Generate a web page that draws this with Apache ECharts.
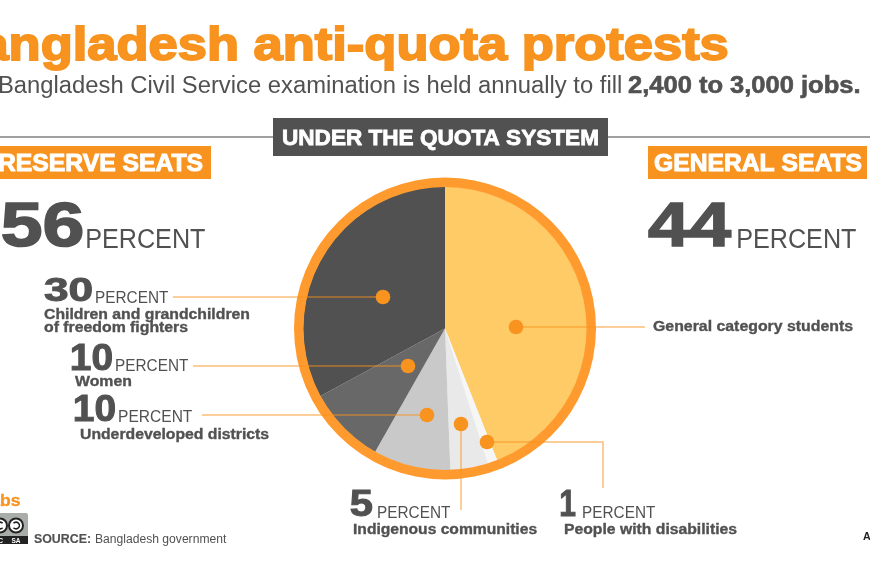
<!DOCTYPE html>
<html><head><meta charset="utf-8">
<style>html,body{margin:0;padding:0;background:#fff}#c{width:870px;height:561px}</style>
<script src="https://cdn.jsdelivr.net/npm/echarts@6/dist/echarts.min.js"></script>
</head><body><div id="c"></div>
<script>
// Slice sizes as drawn in the picture (share of the circle, clockwise from 12 o'clock).
const sliceNames = ['General category students','People with disabilities','Indigenous communities','Underdeveloped districts','Women','Children and grandchildren of freedom fighters'];
const sliceShares = [44, 1.1, 4.3, 8.8, 8.9, 32.9];
const sliceColors = ['#FFCB66','#F6F6F6','#E9E9E9','#C9C9C9','#686868','#515151'];
// Percentages as printed in the labels.
const reservePct = '56', generalPct = '44';
const labelPct = {children:'30', women:'10', districts:'10', indigenous:'5', disabilities:'1'};

const GREY='#515151', ORANGE='#F7931E', RING='#FF9A2E', LINE='rgba(247,147,30,0.6)';
const F='"Liberation Sans", Arial, sans-serif';
const mc=document.createElement('canvas').getContext('2d');

// Text whose ink runs from inkL to inkR on a given baseline.
// part (optional): the substring whose ink span inkL..inkR describes, ending the text.
function fit(text,inkL,inkR,base,size,fill,o){
  o=o||{};
  const font=(o.weight||'normal')+' '+size+'px '+F;
  mc.font=font;
  const m=mc.measureText(text);
  let sx, x;
  if(o.part){
    const p=mc.measureText(o.part);
    sx=(inkR-inkL)/(p.actualBoundingBoxLeft+p.actualBoundingBoxRight);
    x=inkR-m.actualBoundingBoxRight*sx;
  }else{
    sx=(inkR-inkL)/(m.actualBoundingBoxLeft+m.actualBoundingBoxRight);
    x=inkL+m.actualBoundingBoxLeft*sx;
  }
  const mid=(m.fontBoundingBoxAscent-m.fontBoundingBoxDescent)/2;
  return {type:'text',z:20,silent:true,x:x,y:base-mid+size*0.03,scaleX:sx,
    style:{x:0,y:0,text:text,fill:fill,font:font,align:'left',verticalAlign:'middle',
      stroke:o.stroke?fill:null,lineWidth:o.stroke||0}};
}
function rect(x,y,w,h,fill,z){return {type:'rect',z:z||10,silent:true,shape:{x:x,y:y,width:w,height:h},style:{fill:fill}};}
function line(pts){return {type:'polyline',z:12,silent:true,shape:{points:pts},style:{stroke:LINE,lineWidth:1.5,fill:null}};}
function dot(x,y){return {type:'circle',z:13,silent:true,shape:{cx:x,cy:y,r:7.3},style:{fill:ORANGE}};}
const B={weight:'bold'};
const big={weight:'bold',stroke:1.6}, mid={weight:'bold',stroke:1}, lab={weight:'bold',stroke:0.35};

const g=[
  fit('Bangladesh anti-quota protests',12,727,61.5,46,ORANGE,{weight:'bold',stroke:1.8,part:'ngladesh anti-quota protests'}),
  fit('The Bangladesh Civil Service examination is held annually to fill',-1,621,94,23.5,GREY,{part:'Bangladesh Civil Service examination is held annually to fill'}),
  fit('2,400 to 3,000 jobs.',628,859,94,23,GREY,{weight:'bold',stroke:0.6}),
  rect(0,136,870,2,'#A0A0A0',5),
  rect(273,118,335,38,GREY),
  fit('UNDER THE QUOTA SYSTEM',283,598,145,21.5,'#fff',{weight:'bold',stroke:0.8}),
  rect(-10,146,221,33,ORANGE),
  fit('RESERVE SEATS',-1,203,172.5,24,'#fff',{weight:'bold',stroke:1}),
  rect(648,146,219,33,ORANGE),
  fit('GENERAL SEATS',654,862,172.5,24,'#fff',{weight:'bold',stroke:1}),
  fit(reservePct,2,82,249,63,GREY,big),
  fit('PERCENT',87,205,249,27,GREY),
  fit(generalPct,648,731,249,63,GREY,big),
  fit('PERCENT',738,856,249,27,GREY),
  fit(labelPct.children,44,92,303,34,GREY,mid),
  fit('PERCENT',96,168,303,17,GREY),
  fit('Children and grandchildren',44,249,320,14.5,GREY,lab),
  fit('of freedom fighters',44,188,333,14.5,GREY,lab),
  fit(labelPct.women,72,112,371,36,GREY,mid),
  fit('PERCENT',116,188,371,17,GREY),
  fit('Women',75,131,387,14.5,GREY,lab),
  fit(labelPct.districts,75,115,422,36,GREY,mid),
  fit('PERCENT',119,192,422,17,GREY),
  fit('Underdeveloped districts',80,269,440,14.5,GREY,lab),
  fit(labelPct.indigenous,351,373,517,36,GREY,mid),
  fit('PERCENT',378,450,518,17,GREY),
  fit('Indigenous communities',353,537,535,14.5,GREY,lab),
  fit(labelPct.disabilities,561,576,517,36,GREY,mid),
  fit('PERCENT',583,655,518,17,GREY),
  fit('People with disabilities',564,737,535,14.5,GREY,lab),
  fit('General category students',653,853,332,14.5,GREY,lab),
  line([[173,297],[383,297]]),dot(383,297),
  line([[193,366],[408,366]]),dot(408,366),
  line([[202,415],[427,415]]),dot(427,415),
  line([[461,424],[461,510]]),dot(461,424),
  line([[487,442],[603,442],[603,488]]),dot(487,442),
  line([[516,327],[645,327]]),dot(516,327),
  // Footer
  fit('AJLabs',1,20,506,17,ORANGE,{weight:'bold',stroke:0.3,part:'bs'}),
  {type:'rect',z:10,silent:true,shape:{x:-20,y:513,width:48,height:31,r:2},style:{fill:'#A9ADA9'}},
  rect(-20,536,48,8,'#222',11),
  {type:'circle',z:12,silent:true,shape:{cx:0,cy:525.5,r:7},style:{fill:'#fff',stroke:'#222',lineWidth:2}},
  {type:'circle',z:12,silent:true,shape:{cx:16,cy:525.5,r:7},style:{fill:'#fff',stroke:'#222',lineWidth:2}},
  {type:'arc',z:13,silent:true,shape:{cx:16,cy:525.5,r:3.4,startAngle:-2.4,endAngle:2.4},style:{stroke:'#222',lineWidth:1.6,fill:null}},
  {type:'arc',z:13,silent:true,shape:{cx:0,cy:525.5,r:3.4,startAngle:0.7,endAngle:-0.7},style:{stroke:'#222',lineWidth:1.6,fill:null}},
  fit('SA',11.5,20.5,543,7,'#fff',B),
  fit('C',-2,3,543,7,'#fff',B),
  fit('SOURCE:',34,90,543,12,GREY,{weight:'bold',stroke:0.15}),
  fit('Bangladesh government',95,227,543,12,GREY),
  fit('AL JAZEERA',863,930,541,11,'#222',B)
];

const chart=echarts.init(document.getElementById('c'),null,{renderer:'canvas'});
chart.setOption({
  animation:false,
  backgroundColor:'#fff',
  graphic:{elements:g},
  series:[
    {type:'pie',silent:true,center:[445,328.5],radius:[141.5,151],startAngle:90,clockwise:true,
     label:{show:false},labelLine:{show:false},itemStyle:{color:RING},data:[{name:'ring',value:1}],z:3},
    {type:'pie',silent:true,center:[445,328.5],radius:[0,142],startAngle:90,clockwise:true,
     label:{show:false},labelLine:{show:false},z:2,
     data:sliceNames.map((n,i)=>({name:n,value:sliceShares[i],itemStyle:{color:sliceColors[i]}}))}
  ]
});
</script></body></html>
